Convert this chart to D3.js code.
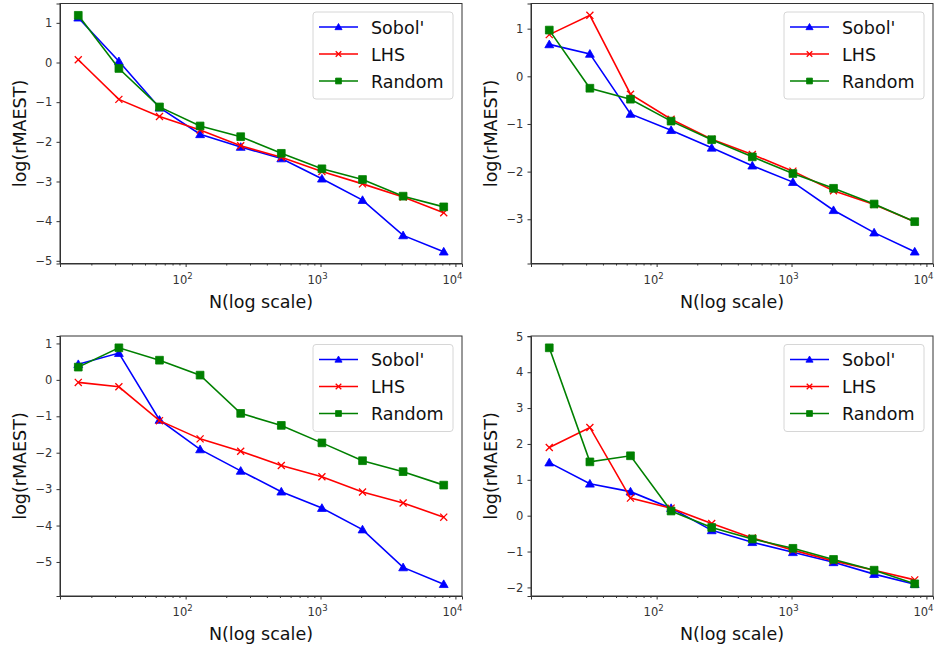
<!DOCTYPE html>
<html>
<head>
<meta charset="utf-8">
<script src="https://cdn.jsdelivr.net/npm/d3@7"></script>
<style>
  body { margin: 0; background: #fff; }
  text { font-family: "DejaVu Sans", sans-serif; }
</style>
</head>
<body>
<div id="chart"></div>
<script>
// sample sizes
var nValues = [16, 32, 64, 128, 256, 512, 1024, 2048, 4096, 8192];
var seriesNames = ["Sobol'", "LHS", "Random"];

// panel 1 (top left)
var p1Sobol  = [1.13, 0.03, -1.14, -1.81, -2.13, -2.42, -2.93, -3.47, -4.36, -4.77];
var p1LHS    = [0.07, -0.93, -1.36, -1.70, -2.10, -2.39, -2.75, -3.06, -3.39, -3.79];
var p1Random = [1.19, -0.15, -1.12, -1.60, -1.87, -2.29, -2.68, -2.95, -3.37, -3.64];

// panel 2 (top right)
var p2Sobol  = [0.67, 0.47, -0.79, -1.13, -1.50, -1.875, -2.22, -2.81, -3.28, -3.68];
var p2LHS    = [0.875, 1.28, -0.375, -0.90, -1.32, -1.64, -1.99, -2.40, -2.69, -3.05];
var p2Random = [0.97, -0.25, -0.48, -0.94, -1.33, -1.69, -2.04, -2.35, -2.68, -3.05];

// panel 3 (bottom left)
var p3Sobol  = [0.43, 0.735, -1.10, -1.91, -2.50, -3.07, -3.52, -4.11, -5.15, -5.61];
var p3LHS    = [-0.07, -0.19, -1.12, -1.62, -1.96, -2.35, -2.66, -3.08, -3.38, -3.77];
var p3Random = [0.35, 0.88, 0.54, 0.13, -0.92, -1.25, -1.73, -2.22, -2.52, -2.89];

// panel 4 (bottom right)
var p4Sobol  = [1.48, 0.89, 0.67, 0.21, -0.41, -0.74, -1.02, -1.30, -1.63, -1.91];
var p4LHS    = [1.90, 2.46, 0.49, 0.21, -0.22, -0.62, -0.96, -1.26, -1.52, -1.79];
var p4Random = [4.68, 1.50, 1.67, 0.13, -0.33, -0.65, -0.91, -1.22, -1.52, -1.90];

var yTicks = [
    [-5, -4, -3, -2, -1, 0, 1],
    [-3, -2, -1, 0, 1],
    [-5, -4, -3, -2, -1, 0, 1],
    [-2, -1, 0, 1, 2, 3, 4, 5]
];
var xTicks = [100, 1000, 10000];

var panels = [
    {x: 60,  y: 3.5, data: [p1Sobol, p1LHS, p1Random]},
    {x: 531, y: 3.5, data: [p2Sobol, p2LHS, p2Random]},
    {x: 60,  y: 336, data: [p3Sobol, p3LHS, p3Random]},
    {x: 531, y: 336, data: [p4Sobol, p4LHS, p4Random]}
];

var colors = ['#0000ff', '#ff0000', '#008000'];
var symbols = [d3.symbolTriangle, d3.symbolX, d3.symbolSquare];
var symSizes = [34, 34, 60];
var legSizes = [22, 22, 34];

var W = 936, H = 651;
var pw = 402, ph = 260;

var svg = d3.select('#chart').append('svg')
    .attr('width', W)
    .attr('height', H);

var minus = function(v) { return v < 0 ? '\u2212' + Math.abs(v) : '' + v; };

function drawMarker(sel, si, size) {
    sel.attr('d', d3.symbol().type(symbols[si]).size(size))
        .attr('fill', si === 1 ? 'none' : colors[si])
        .attr('stroke', colors[si])
        .attr('stroke-width', si === 1 ? 1.3 : 0.8);
}

panels.forEach(function(p, pi) {
    var g = svg.append('g').attr('transform', 'translate(' + p.x + ',' + p.y + ')');

    // matplotlib style 5% margins
    var lx0 = Math.log10(nValues[0]), lx1 = Math.log10(nValues[nValues.length - 1]);
    var padX = (lx1 - lx0) * 0.05;
    var x = d3.scaleLog()
        .domain([Math.pow(10, lx0 - padX), Math.pow(10, lx1 + padX)])
        .range([0, pw]);

    var all = d3.merge(p.data);
    var ymin = d3.min(all), ymax = d3.max(all);
    var padY = (ymax - ymin) * 0.05;
    var y = d3.scaleLinear()
        .domain([ymin - padY, ymax + padY])
        .range([ph, 0]);

    // lines & markers
    p.data.forEach(function(vals, si) {
        var pts = nValues.map(function(n, i) { return [n, vals[i]]; });
        var line = d3.line()
            .x(function(d) { return x(d[0]); })
            .y(function(d) { return y(d[1]); });
        g.append('path')
            .datum(pts)
            .attr('fill', 'none')
            .attr('stroke', colors[si])
            .attr('stroke-width', 1.6)
            .attr('d', line);
        g.selectAll('.m' + si)
            .data(pts)
            .enter().append('path')
            .attr('class', 'm' + si)
            .attr('transform', function(d) {
                var dy = si === 0 ? 0.8 : 0;
                return 'translate(' + x(d[0]) + ',' + (y(d[1]) + dy) + ')';
            })
            .call(drawMarker, si, symSizes[si]);
    });

    // x axis
    g.append('g')
        .attr('transform', 'translate(0,' + ph + ')')
        .call(d3.axisBottom(x).tickValues(xTicks).tickSize(3.5).tickFormat(''));
    var minorTicks = [];
    [10, 100, 1000].forEach(function(dec) {
        for (var k = 2; k <= 9; k++) {
            var v = dec * k;
            if (v >= x.domain()[0] && v <= x.domain()[1]) minorTicks.push(v);
        }
    });
    g.append('g')
        .attr('transform', 'translate(0,' + ph + ')')
        .call(d3.axisBottom(x).tickValues(minorTicks).tickSize(2).tickFormat(''))
        .call(function(s) { s.select('.domain').remove(); });

    xTicks.forEach(function(t) {
        var tx = g.append('text')
            .attr('x', x(t) - 3)
            .attr('y', ph + 20)
            .attr('text-anchor', 'middle')
            .attr('font-size', 11.5)
            .attr('fill', '#333');
        tx.append('tspan').text('10');
        tx.append('tspan')
            .attr('dy', -5)
            .attr('font-size', 8.5)
            .text(Math.round(Math.log10(t)));
    });

    // y axis
    g.append('g')
        .call(d3.axisLeft(y).tickValues(yTicks[pi]).tickSize(3.5).tickFormat(minus))
        .call(function(s) {
            s.selectAll('text').attr('font-size', 11.5).attr('fill', '#333')
                .attr('font-family', '"DejaVu Sans", sans-serif').attr('dx', '-0.1em');
        });

    g.selectAll('.domain').attr('stroke', '#333');
    g.selectAll('.tick line').attr('stroke', '#333');

    // frame
    g.append('rect')
        .attr('width', pw).attr('height', ph)
        .attr('fill', 'none')
        .attr('stroke', '#333')
        .attr('stroke-width', 1);

    // axis labels
    g.append('text')
        .attr('x', pw / 2)
        .attr('y', ph + 44)
        .attr('text-anchor', 'middle')
        .attr('font-size', 17.5)
        .attr('fill', '#111')
        .text('N(log scale)');
    g.append('text')
        .attr('transform', 'translate(-34,' + ph / 2 + ') rotate(-90)')
        .attr('text-anchor', 'middle')
        .attr('font-size', 17.5)
        .attr('fill', '#111')
        .text('log(rMAEST)');

    // legend
    var lw = 140, lh = 87;
    var lg = g.append('g').attr('transform', 'translate(' + (pw - lw - 9) + ',' + 8.5 + ')');
    lg.append('rect')
        .attr('width', lw).attr('height', lh)
        .attr('rx', 3)
        .attr('fill', '#fff').attr('fill-opacity', 0.85)
        .attr('stroke', '#d6d6d6');
    seriesNames.forEach(function(name, si) {
        var ry = 15 + si * 27;
        lg.append('line')
            .attr('x1', 6).attr('x2', 45)
            .attr('y1', ry).attr('y2', ry)
            .attr('stroke', colors[si]).attr('stroke-width', 1.6);
        lg.append('path')
            .attr('transform', 'translate(25.5,' + (ry + (si === 0 ? 0.6 : 0)) + ')')
            .call(drawMarker, si, legSizes[si]);
        lg.append('text')
            .attr('x', 58)
            .attr('y', ry + 6.5)
            .attr('font-size', 17.5)
            .attr('fill', '#111')
            .text(name);
    });
});
</script>
</body>
</html>
